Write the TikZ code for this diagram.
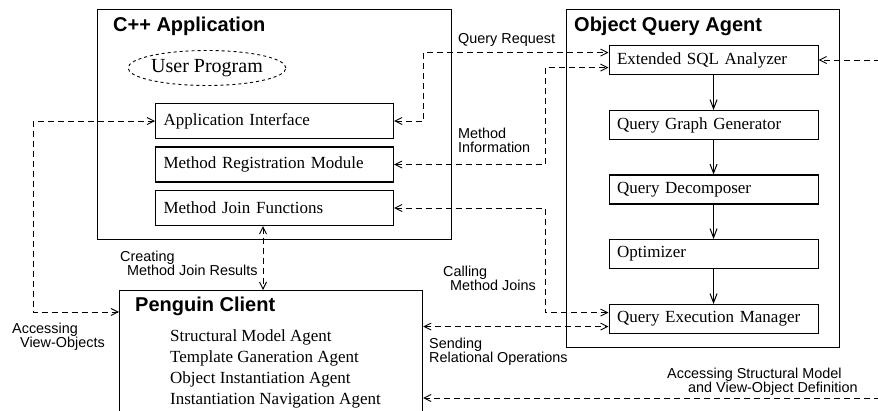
\documentclass[tikz,border=0pt]{standalone}
\usepackage{fontspec}
\setmainfont{Liberation Serif}
\setsansfont{Liberation Sans}
\usetikzlibrary{arrows.meta,shapes.geometric}

\begin{document}
\begin{tikzpicture}[x=1pt,y=-1pt,
  frame/.style={draw, line width=1.2pt, anchor=north west, inner sep=0pt},
  title/.style={anchor=base west, inner sep=0pt, font=\sffamily\bfseries\fontsize{20}{24}\selectfont},
  module/.style={draw, line width=1.1pt, anchor=north west, inner xsep=8pt, inner ysep=0pt,
    align=left, font=\fontsize{17}{20}\selectfont},
  appmod/.style={module, text width=222pt, minimum height=35pt},
  qmod/.style={module, text width=193pt, minimum height=29pt},
  agent/.style={anchor=base west, inner sep=0pt, font=\fontsize{17}{20}\selectfont},
  note/.style={anchor=base west, inner sep=0pt, font=\sffamily\fontsize{14.4}{17}\selectfont},
  dconn/.style={line width=0.9pt, dash pattern=on 6pt off 4pt,
    arrows={Straight Barb[length=7pt,width=7pt]-Straight Barb[length=7pt,width=7pt]}},
  flow/.style={line width=1pt, -{Straight Barb[length=9pt,width=7pt]}}]

\useasboundingbox (0,0) rectangle (878,411);

% C++ application
\node[frame, minimum width=354pt, minimum height=230pt] (cpp) at (97,9) {};
\node[title] (cpptitle) at (113,32) {C++ Application};
\node[draw, dashed, line width=0.9pt, ellipse, inner sep=0pt, minimum width=145pt, minimum height=35pt,
  font=\fontsize{20}{24}\selectfont] (user) at (207,68) {User Program};
\node[appmod] (ai) at (155,103) {Application Interface};
\node[appmod] (mrm) at (155,146.5) {Method Registration Module};
\node[appmod] (mjf) at (155,190) {Method Join Functions};

% Object query agent
\node[frame, minimum width=273pt, minimum height=338pt] (oqa) at (566,9) {};
\node[title] (oqatitle) at (574,31.5) {Object Query Agent};
\node[qmod] (esa) at (608.5,45) {Extended SQL Analyzer};
\node[qmod] (qgg) at (608.5,110) {Query Graph Generator};
\node[qmod] (qd) at (608.5,174.5) {Query Decomposer};
\node[qmod] (opt) at (608.5,239) {Optimizer};
\node[qmod] (qem) at (608.5,304) {Query Execution Manager};

\draw[flow] (esa.south) -- (qgg.north);
\draw[flow] (qgg.south) -- (qd.north);
\draw[flow] (qd.south) -- (opt.north);
\draw[flow] (opt.south) -- (qem.north);

% Penguin client
\node[frame, minimum width=303pt, minimum height=150pt] (pc) at (119,290) {};
\node[title] (pctitle) at (135,312) {Penguin Client};
\node[agent] (a1) at (170,341.5) {Structural Model Agent};
\node[agent] (a2) at (170,362.5) {Template Ganeration Agent};
\node[agent] (a3) at (170,384) {Object Instantiation Agent};
\node[agent] (a4) at (170,405) {Instantiation Navigation Agent};

% helper coordinates
\coordinate (rim) at (880,0);
\coordinate (cmj) at (263,0);
\coordinate (smv) at (0,398);

% dashed connectors
\draw[dconn] (ai.east) -- ++(29,0) |- ([yshift=7.5pt]esa.west);
\draw[dconn] (mrm.east) -- ++(151,0) |- ([yshift=-7.5pt]esa.west);
\draw[dconn] (mjf.east) -- ++(151,0) |- ([yshift=6.5pt]qem.west);
\draw[dconn] ([yshift=-7.5pt]qem.west -| pc.east) -- ([yshift=-7.5pt]qem.west);
\draw[dconn] (mjf.south -| cmj) -- (pc.north -| cmj);
\draw[dconn] (ai.west) -- ++(-122,0) |- ([yshift=-22pt]pc.north west);
\draw[dconn, arrows={-Straight Barb[length=7pt,width=7pt]}] (esa.east -| rim) -- (esa.east);
\draw[dconn, arrows={-Straight Barb[length=7pt,width=7pt]}] (smv -| rim) -- (smv -| pc.east);

% connector labels
\node[note] (lqr) at (458,44) {Query Request};
\node[note] (lmi1) at (458,139) {Method};
\node[note] (lmi2) at (458,153) {Information};
\node[note] (lcr1) at (120,262) {Creating};
\node[note] (lcr2) at (127,276) {Method Join Results};
\node[note] (lcm1) at (443,277) {Calling};
\node[note] (lcm2) at (450,291) {Method Joins};
\node[note] (lsr1) at (429,348.5) {Sending};
\node[note] (lsr2) at (429,362.5) {Relational Operations};
\node[note] (lav1) at (12,333.5) {Accessing};
\node[note] (lav2) at (20,347.5) {View-Objects};
\node[note] (las1) at (667,378.5) {Accessing Structural Model};
\node[note] (las2) at (688,392) {and View-Object Definition};
\end{tikzpicture}
\end{document}
